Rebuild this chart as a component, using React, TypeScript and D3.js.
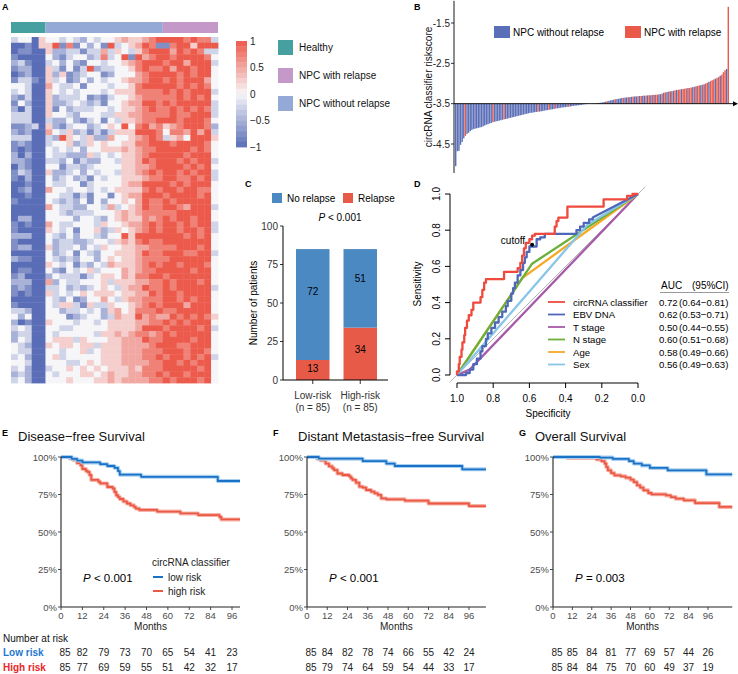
import * as d3 from "d3";

const FONT = "'Liberation Sans', Arial, Helvetica, sans-serif";

// ---------- A: heatmap (levels 0..8 -> -1..1) ----------
const heatRows = [
  "34405 4434324344565 5678 8887877 3",
  "00105 5817142418345 6871 1788588 8",
  "01100 5223313363543 5788 8687873 3",
  "10000 4213442373481 8678 8788887 4",
  "23100 3424214434456 7888 7886888 3",
  "12200 5314138233445 7877 8688788 4",
  "01200 5251234412444 6788 8878788 4",
  "13310 5341242434456 6788 7878886 4",
  "44300 6433414443445 7888 8878787 4",
  "34300 5434344434555 7777 8787888 3",
  "21300 5233341213445 6777 7787878 4",
  "14200 5223432314456 6887 8788888 3",
  "20300 5142333443455 6787 7878787 3",
  "33300 5443244433556 6777 7877888 3",
  "33300 3224213414355 6778 8878887 4",
  "11230 5213442345484 7867 5678887 2",
  "21200 6435231313555 8887 4776868 3",
  "33300 3285435226445 6787 3564888 5",
  "12100 3445235454455 7788 8788887 4",
  "10100 4343424455565 6778 8888787 4",
  "20200 4332225343455 6788 8887888 4",
  "22100 3324132244355 6878 8878788 3",
  "02100 4413323444455 6678 8887878 4",
  "13200 5223424344355 6787 8878788 3",
  "10200 4234231434455 5677 8877878 3",
  "00100 4334413444456 6888 8787888 4",
  "01200 6443443434555 5787 8878877 4",
  "00100 4433131441456 6888 7888878 4",
  "10000 4323241424454 6877 8788888 4",
  "00000 6433224436345 6877 8876888 3",
  "00000 4432333444565 6777 7788888 4",
  "02200 4444244324565 5767 8788788 4",
  "10100 6433444354456 6787 8878788 3",
  "10000 5434144523545 6787 8878878 3",
  "22200 4324244324485 8888 8887878 4",
  "10000 4233223443565 7877 8888888 4",
  "12200 5233424354455 6677 7788878 4",
  "00000 4234143244555 6877 8887788 3",
  "21100 4323244245455 6777 7888888 4",
  "00000 5434132436555 6787 8878887 4",
  "01100 4214345344465 6778 8888788 4",
  "12000 2433313455465 7788 7888888 4",
  "22200 6243344453555 6677 8788878 4",
  "12100 3342323454356 6877 8788888 3",
  "10100 5343454555455 6687 8878888 4",
  "00000 4324124464356 6777 8878788 4",
  "10000 4355315335445 6787 8886888 4",
  "33200 4423343425645 7778 7788888 4",
  "42400 4441234423655 8676 6878787 5",
  "20100 5444344345555 6677 8787888 4",
  "34300 4433444445555 6888 7888878 3",
  "23300 4344444355656 7767 8788888 4",
  "24300 4555354445566 6877 8888788 4",
  "43200 5455455355566 6678 8877888 4",
  "43300 4434453455566 6777 8887887 4",
  "34200 4534444455566 6778 7887878 3",
  "44300 4443345455566 6677 8878788 4",
  "34200 3445454545556 5777 8888878 4",
  "23200 4344455456556 6778 7887888 4",
  "34200 4445444556566 6677 8788878 4",
];
const annotGroups = ["Healthy", "NPC without relapse", "NPC with relapse"];
const annotSizes = [5, 17, 8];
const legendGroups = ["Healthy", "NPC with relapse", "NPC without relapse"];
const groupColors: Record<string, string> = {
  Healthy: "#47A0A0",
  "NPC with relapse": "#C498C8",
  "NPC without relapse": "#95A9D6",
};
const colorbarTicks = [1, 0.5, 0, -0.5, -1];

// ---------- B: risk scores ----------
const riskScores = [
  -5.05, -4.68, -4.67, -4.52, -4.45, -4.36, -4.3, -4.25, -4.22, -4.18, -4.15, -4.13, -4.12, -4.11, -4.1, -4.09,
  -4.08, -4.06, -4.04, -4.02, -4.01, -3.99, -3.98, -3.96, -3.95, -3.94, -3.93, -3.92, -3.91, -3.9, -3.89,
  -3.88, -3.87, -3.86, -3.85, -3.84, -3.83, -3.82, -3.81, -3.8, -3.79, -3.78, -3.77,
  -3.76, -3.75, -3.74, -3.73, -3.725, -3.72, -3.71, -3.705, -3.7, -3.695, -3.69, -3.68, -3.67, -3.665, -3.66,
  -3.65, -3.645, -3.64, -3.63, -3.62, -3.615, -3.61, -3.6, -3.595, -3.59, -3.585, -3.58, -3.575, -3.57, -3.56,
  -3.555, -3.55, -3.545, -3.54, -3.535, -3.53, -3.52, -3.515, -3.51, -3.505, -3.5, -3.5,
  -3.498, -3.495, -3.49, -3.485, -3.48, -3.475, -3.47, -3.46,
  -3.45, -3.44, -3.43, -3.42, -3.41, -3.4, -3.39, -3.385, -3.38, -3.37, -3.36, -3.355, -3.35, -3.345, -3.34,
  -3.335, -3.33, -3.325, -3.32, -3.32, -3.315, -3.31, -3.31, -3.305, -3.3, -3.3, -3.295, -3.29, -3.29, -3.285,
  -3.28, -3.28, -3.275, -3.27, -3.265,
  -3.25, -3.23, -3.22, -3.21, -3.2, -3.195, -3.19, -3.18, -3.17, -3.16, -3.155, -3.15, -3.14, -3.135, -3.13,
  -3.12, -3.115, -3.11, -3.1, -3.09, -3.08, -3.07, -3.06, -3.05, -3.04, -3.03, -3.02, -3.0, -2.98, -2.96, -2.94,
  -2.92, -2.9, -2.88, -2.86, -2.84, -2.81, -2.78, -2.72, -2.67, -2.64, -1.1,
];
const relapseIdx = [
  6, 23, 30, 51, 58, 62, 70, 88, 94, 99, 104, 107, 110, 113, 115, 118, 120, 122, 124, 125, 128, 130, 132, 134,
  136, 138, 139, 141, 142, 143, 145, 146, 148, 150, 151, 153, 155, 156, 158, 159, 160, 162, 163, 165, 166, 167, 169,
];
const bTicks = [-1.5, -2.5, -3.5, -4.5];

// ---------- C: relapse by risk group ----------
const riskGroups = ["Low-risk", "High-risk"];
const noRelapseN = [72, 51];
const relapseN = [13, 34];
const cTicks = [0, 25, 50, 75, 100];

// ---------- D: ROC (specificity, sensitivity) ----------
const rocCirc = [
  [1, 0], [1, 0.02], [0.99, 0.02], [0.99, 0.06], [0.985, 0.06], [0.985, 0.1], [0.975, 0.1], [0.975, 0.14],
  [0.97, 0.14], [0.97, 0.18], [0.96, 0.18], [0.96, 0.22], [0.955, 0.22], [0.955, 0.26], [0.945, 0.26],
  [0.945, 0.3], [0.935, 0.3], [0.935, 0.33], [0.92, 0.33], [0.92, 0.36], [0.91, 0.36], [0.91, 0.4], [0.87, 0.4],
  [0.87, 0.43], [0.86, 0.43], [0.86, 0.47], [0.85, 0.47], [0.85, 0.51], [0.84, 0.51], [0.84, 0.53], [0.74, 0.53],
  [0.74, 0.57], [0.665, 0.57], [0.665, 0.59], [0.65, 0.59], [0.65, 0.62], [0.64, 0.62], [0.64, 0.66], [0.63, 0.66],
  [0.63, 0.7], [0.62, 0.7], [0.62, 0.73], [0.6, 0.73], [0.6, 0.75], [0.585, 0.75], [0.585, 0.77], [0.57, 0.77],
  [0.57, 0.78], [0.46, 0.78], [0.46, 0.82], [0.45, 0.82], [0.45, 0.85], [0.44, 0.85], [0.44, 0.87], [0.39, 0.87],
  [0.39, 0.93], [0.19, 0.93], [0.19, 0.97], [0.06, 0.97], [0.06, 0.99], [0.03, 0.99], [0.03, 1], [0, 1],
];
const rocEbv = [
  [1, 0], [0.95, 0], [0.95, 0.01], [0.93, 0.01], [0.93, 0.03], [0.91, 0.03], [0.91, 0.06], [0.89, 0.06],
  [0.89, 0.09], [0.87, 0.09], [0.87, 0.13], [0.86, 0.13], [0.86, 0.16], [0.84, 0.16], [0.84, 0.2], [0.83, 0.2],
  [0.83, 0.23], [0.81, 0.23], [0.81, 0.26], [0.79, 0.26], [0.79, 0.29], [0.77, 0.29], [0.77, 0.32], [0.75, 0.32],
  [0.75, 0.35], [0.73, 0.35], [0.73, 0.38], [0.72, 0.38], [0.72, 0.41], [0.7, 0.41], [0.7, 0.45], [0.69, 0.45],
  [0.69, 0.48], [0.68, 0.48], [0.68, 0.51], [0.665, 0.51], [0.665, 0.55], [0.65, 0.55], [0.65, 0.58],
  [0.635, 0.58], [0.635, 0.62], [0.625, 0.62], [0.625, 0.65], [0.615, 0.65], [0.615, 0.68], [0.6, 0.68],
  [0.6, 0.71], [0.56, 0.71], [0.56, 0.75], [0.54, 0.75], [0.54, 0.76], [0.515, 0.76], [0.515, 0.78], [0.34, 0.78],
  [0.34, 0.8], [0.32, 0.8], [0.32, 0.82], [0.3, 0.82], [0.3, 0.84], [0.27, 0.84], [0.27, 0.86], [0.25, 0.86],
  [0.25, 0.87], [0, 1],
];
const rocT = [[1, 0], [0.93, 0.03], [0, 1]];
const rocN = [[1, 0], [0.585, 0.615], [0, 1]];
const rocAge = [[1, 0], [0.64, 0.535], [0, 1]];
const rocSex = [[1, 0], [0.28, 0.83], [0, 1]];
const rocNames = ["circRNA classifier", "EBV DNA", "T stage", "N stage", "Age", "Sex"];
const rocAuc = ["0.72", "0.62", "0.50", "0.60", "0.58", "0.56"];
const rocCi = ["(0.64\u22120.81)", "(0.53\u22120.71)", "(0.44\u22120.55)", "(0.51\u22120.68)", "(0.49\u22120.66)", "(0.49\u22120.63)"];
const rocColors = ["#EE4A3D", "#4F67B9", "#A65BA9", "#6AB03A", "#F6A928", "#88C6E8"];
const rocCurves = [rocCirc, rocEbv, rocT, rocN, rocAge, rocSex];
const rocDrawOrder = [2, 4, 3, 5, 1, 0];
const cutoffPoint = [0.585, 0.72];
const rocTicks = [0, 0.2, 0.4, 0.6, 0.8, 1];

// ---------- E-G: Kaplan-Meier ----------
const monthTicks = [0, 12, 24, 36, 48, 60, 72, 84, 96];
const survTicks = [0, 0.25, 0.5, 0.75, 1];
const dfsLow = [[0, 1], [6, 0.988], [9, 0.976], [12, 0.964], [22, 0.952], [26, 0.94], [30, 0.928], [32, 0.906], [33, 0.882], [45, 0.868], [88, 0.84]];
const dfsHigh = [
  [0, 1], [5, 0.99], [7, 0.98], [9, 0.96], [11, 0.945], [12, 0.92], [14, 0.907], [15, 0.9], [16, 0.88], [17, 0.847],
  [21, 0.835], [22, 0.824], [26, 0.8], [29, 0.79], [30, 0.767], [31, 0.745], [32, 0.733], [33, 0.72], [35, 0.704],
  [37, 0.69], [39, 0.678], [41, 0.667], [42, 0.656], [44, 0.647], [54, 0.636], [67, 0.624], [77, 0.613], [89, 0.6], [90, 0.584],
];
const dmfsLow = [[0, 1], [7, 0.989], [33, 0.973], [47, 0.956], [52, 0.94], [92, 0.918]];
const dmfsHigh = [
  [0, 1], [6, 0.989], [8, 0.978], [11, 0.956], [13, 0.938], [15, 0.925], [16, 0.913], [18, 0.89], [21, 0.88],
  [25, 0.871], [26, 0.858], [27, 0.847], [29, 0.829], [31, 0.802], [33, 0.796], [35, 0.78], [38, 0.769], [40, 0.758],
  [42, 0.747], [44, 0.724], [47, 0.718], [58, 0.709], [72, 0.69], [96, 0.673],
];
const osLow = [[0, 1], [29, 0.996], [37, 0.987], [47, 0.973], [50, 0.956], [55, 0.944], [60, 0.927], [71, 0.911], [95, 0.884]];
const osHigh = [
  [0, 1], [9, 0.993], [27, 0.984], [30, 0.973], [32, 0.956], [33, 0.933], [34, 0.911], [36, 0.893], [38, 0.878],
  [42, 0.871], [45, 0.862], [48, 0.849], [50, 0.833], [52, 0.811], [54, 0.796], [56, 0.778], [59, 0.76], [61, 0.751],
  [70, 0.744], [73, 0.733], [76, 0.722], [81, 0.711], [88, 0.693], [103, 0.667],
];
const dfsAtRiskLow = [85, 82, 79, 73, 70, 65, 54, 41, 23];
const dfsAtRiskHigh = [85, 77, 69, 59, 55, 51, 42, 32, 17];
const dmfsAtRiskLow = [85, 84, 82, 78, 74, 66, 55, 42, 24];
const dmfsAtRiskHigh = [85, 79, 74, 64, 59, 54, 44, 33, 17];
const osAtRiskLow = [85, 85, 84, 81, 77, 69, 57, 44, 26];
const osAtRiskHigh = [85, 84, 84, 75, 70, 60, 49, 37, 19];

const BLUE_HM = "#5A6DB7";
const RED_HM = "#EC5A4B";

function PanelA() {
  const cells = heatRows.map((r) => r.replace(/ /g, ""));
  const nCols = 30;
  const x = d3.scaleBand<number>().domain(d3.range(nCols)).range([11, 218]);
  const y = d3.scaleBand<number>().domain(d3.range(cells.length)).range([37, 383]);
  const color = d3.scaleLinear<string>().domain([-1, 0, 1]).range([BLUE_HM, "#F6F6F8", RED_HM]).clamp(true);
  const level = (ch: string) => ((ch ? +ch : 4) - 4) / 4;

  let start = 0;
  const annot = annotGroups.map((g, i) => {
    const s = start;
    start += annotSizes[i];
    return { g, s, e: start - 1 };
  });

  // stepped colour key
  const cbY = d3.scaleLinear().domain([1, -1]).range([41, 147]);
  const nBands = 20;
  const step = 2 / nBands;
  const bands = d3.range(nBands).map((i) => 1 - (i + 0.5) * step);

  return (
    <g>
      <text x={2} y={10} fontSize={9} fontWeight="bold">A</text>
      {annot.map((a) => (
        <rect key={a.g} x={x(a.s)} y={22} width={(x(a.e) as number) + x.bandwidth() - (x(a.s) as number)} height={11} fill={groupColors[a.g]} />
      ))}
      {cells.map((row, r) =>
        d3.range(nCols).map((c) => (
          <rect key={r + "-" + c} x={x(c)} y={y(r)} width={x.bandwidth() + 0.4} height={y.bandwidth() + 0.4} fill={color(level(row[c]))} />
        ))
      )}
      {bands.map((v, i) => (
        <rect key={i} x={236} y={cbY(v + step / 2)} width={11} height={cbY(-step) - cbY(0) + 0.4} fill={color(v)} />
      ))}
      {colorbarTicks.map((t) => (
        <text key={t} x={250} y={cbY(t)} fontSize={10} dominantBaseline="central" fill="#222">
          {t < 0 ? "\u2212" + Math.abs(t) : String(t)}
        </text>
      ))}
      {legendGroups.map((g, i) => (
        <g key={g} transform={`translate(278,${40 + i * 28})`}>
          <rect width={15} height={15} fill={groupColors[g]} />
          <text x={21} y={7.5} fontSize={10} dominantBaseline="central" fill="#111">{g}</text>
        </g>
      ))}
    </g>
  );
}

function PanelB() {
  const x = d3.scaleBand<number>().domain(d3.range(riskScores.length)).range([455, 729]).paddingInner(0.12);
  const y = d3.scaleLinear().domain([-4.5, -1.5]).range([144, 23]);
  const base = y(-3.5);
  const rel = new Set(relapseIdx);
  return (
    <g>
      <text x={414} y={10} fontSize={9} fontWeight="bold">B</text>
      {riskScores.map((v, i) => (
        <rect key={i} x={x(i)} width={x.bandwidth()} y={Math.min(y(v), base)} height={Math.abs(y(v) - base)} fill={rel.has(i) ? "#EA5A4A" : "#5B6FB9"} />
      ))}
      <line x1={454} x2={454} y1={y(-0.95)} y2={y(-5.22)} stroke="#000" strokeWidth={0.9} />
      {bTicks.map((t) => (
        <g key={t}>
          <line x1={451} x2={454} y1={y(t)} y2={y(t)} stroke="#000" strokeWidth={0.8} />
          <text x={450} y={y(t)} fontSize={10} textAnchor="end" dominantBaseline="central" fill="#222">{t.toFixed(1)}</text>
        </g>
      ))}
      <line x1={454} x2={734} y1={base} y2={base} stroke="#000" strokeWidth={0.9} />
      <path d={`M733,${base - 2.5}L738,${base}L733,${base + 2.5}Z`} fill="#000" />
      <text transform={`translate(428,87) rotate(-90)`} fontSize={10} textAnchor="middle" dominantBaseline="central" fill="#111">
        circRNA classifier riskscore
      </text>
      <rect x={494} y={26} width={16} height={12} fill="#5B6FB9" />
      <text x={513} y={32} fontSize={10} dominantBaseline="central">NPC without relapse</text>
      <rect x={625} y={26} width={16} height={12} fill="#EA5A4A" />
      <text x={644} y={32} fontSize={10} dominantBaseline="central">NPC with relapse</text>
    </g>
  );
}

function PanelC() {
  const x = d3.scaleBand<string>().domain(riskGroups).range([284, 389]).paddingInner(0.295).paddingOuter(0.253);
  const y = d3.scaleLinear().domain([0, 100]).range([380, 226]);
  return (
    <g>
      <text x={245} y={187} fontSize={9} fontWeight="bold">C</text>
      <rect x={272} y={193} width={10} height={10} fill="#4B89C3" />
      <text x={287} y={198.5} fontSize={10} dominantBaseline="central">No relapse</text>
      <rect x={343} y={193} width={10} height={10} fill="#E85A48" />
      <text x={358} y={198.5} fontSize={10} dominantBaseline="central">Relapse</text>
      <text x={340} y={217} fontSize={10} textAnchor="middle" dominantBaseline="central">
        <tspan fontStyle="italic">P</tspan> {"< 0.001"}
      </text>
      {riskGroups.map((g, i) => {
        const bx = x(g) as number;
        const w = x.bandwidth();
        const r = relapseN[i];
        const n = noRelapseN[i];
        return (
          <g key={g}>
            <rect x={bx} y={y(r)} width={w} height={y(0) - y(r)} fill="#E85A48" />
            <rect x={bx} y={y(r + n)} width={w} height={y(r) - y(r + n)} fill="#4B89C3" />
            <text x={bx + w / 2} y={y(r + n * 0.62)} fontSize={10} textAnchor="middle" dominantBaseline="central">{n}</text>
            <text x={bx + w / 2} y={y(r * 0.58)} fontSize={10} textAnchor="middle" dominantBaseline="central">{r}</text>
            <line x1={bx + w / 2} x2={bx + w / 2} y1={380} y2={384} stroke="#000" strokeWidth={0.8} />
            <text x={bx + w / 2} y={395} fontSize={10} textAnchor="middle" dominantBaseline="central" fill="#333">{g}</text>
            <text x={bx + w / 2} y={407} fontSize={10} textAnchor="middle" dominantBaseline="central" fill="#333">(n = 85)</text>
          </g>
        );
      })}
      <line x1={283} x2={283} y1={y(0)} y2={y(100)} stroke="#000" strokeWidth={1} />
      <line x1={283} x2={388} y1={y(0)} y2={y(0)} stroke="#000" strokeWidth={1} />
      {cTicks.map((t) => (
        <g key={t}>
          <line x1={280} x2={283} y1={y(t)} y2={y(t)} stroke="#000" strokeWidth={0.8} />
          <text x={278} y={y(t)} fontSize={10} textAnchor="end" dominantBaseline="central" fill="#333">{t}</text>
        </g>
      ))}
      <text transform={`translate(253,303) rotate(-90)`} fontSize={10} textAnchor="middle" dominantBaseline="central">
        Number of patients
      </text>
    </g>
  );
}

function PanelD() {
  const x = d3.scaleLinear().domain([1, 0]).range([457, 638]);
  const y = d3.scaleLinear().domain([0, 1]).range([375, 194]);
  const line = d3.line<number[]>().x((d) => x(d[0])).y((d) => y(d[1]));
  return (
    <g>
      <text x={414} y={187} fontSize={9} fontWeight="bold">D</text>
      <line x1={x(1.04)} y1={y(-0.04)} x2={x(-0.04)} y2={y(1.04)} stroke="#B5B5B5" strokeWidth={1} />
      {rocDrawOrder.map((i) => (
        <path key={i} d={line(rocCurves[i] as number[][]) || ""} fill="none" stroke={rocColors[i]} strokeWidth={2.3} strokeLinejoin="round" />
      ))}
      <circle cx={x(cutoffPoint[0])} cy={y(cutoffPoint[1])} r={2} fill="#000" />
      <text x={x(cutoffPoint[0]) - 7} y={y(cutoffPoint[1]) - 4} fontSize={10} textAnchor="end" dominantBaseline="central">cutoff</text>
      <line x1={450} x2={450} y1={y(0)} y2={y(1)} stroke="#000" strokeWidth={1} />
      {rocTicks.map((t) => (
        <g key={"y" + t}>
          <line x1={445} x2={450} y1={y(t)} y2={y(t)} stroke="#000" strokeWidth={1} />
          <text transform={`translate(436,${y(t)}) rotate(-90)`} fontSize={10} textAnchor="middle" dominantBaseline="central">
            {t.toFixed(1)}
          </text>
        </g>
      ))}
      <line x1={x(1)} x2={x(0)} y1={383} y2={383} stroke="#000" strokeWidth={1} />
      {rocTicks.map((t) => (
        <g key={"x" + t}>
          <line x1={x(t)} x2={x(t)} y1={383} y2={388} stroke="#000" strokeWidth={1} />
          <text x={x(t)} y={398} fontSize={10} textAnchor="middle" dominantBaseline="central">{t.toFixed(1)}</text>
        </g>
      ))}
      <text x={548} y={413} fontSize={10} textAnchor="middle" dominantBaseline="central">Specificity</text>
      <text transform={`translate(417,284) rotate(-90)`} fontSize={10} textAnchor="middle" dominantBaseline="central">
        Sensitivity
      </text>
      <text x={661} y={285} fontSize={10} dominantBaseline="central">AUC</text>
      <text x={692} y={285} fontSize={10} dominantBaseline="central">(95%CI)</text>
      <line x1={660} x2={729} y1={292.5} y2={292.5} stroke="#999" strokeWidth={1} />
      {rocNames.map((n, i) => {
        const ly = 302 + i * 12.5;
        return (
          <g key={n}>
            <line x1={548} x2={565} y1={ly} y2={ly} stroke={rocColors[i]} strokeWidth={1.8} />
            <text x={573} y={ly} fontSize={9.6} dominantBaseline="central">{n}</text>
            <text x={659} y={ly} fontSize={9.6} dominantBaseline="central">{rocAuc[i]}</text>
            <text x={679} y={ly} fontSize={9.6} dominantBaseline="central">{rocCi[i]}</text>
          </g>
        );
      })}
    </g>
  );
}

type SurvProps = {
  letter: string;
  letterX: number;
  title: string;
  titleX: number;
  left: number;
  ppm: number;
  maxMonth: number;
  low: number[][];
  high: number[][];
  pText: string;
  riskLow: number[];
  riskHigh: number[];
  legend?: boolean;
};

const KM_BLUE = "#1A72C6";
const KM_RED = "#EB5843";

function SurvPanel(p: SurvProps) {
  const x = d3.scaleLinear().domain([0, p.maxMonth]).range([p.left, p.left + p.maxMonth * p.ppm]);
  const y = d3.scaleLinear().domain([0, 1]).range([607, 457]);
  const line = d3.line<number[]>().x((d) => x(d[0])).y((d) => y(d[1])).curve(d3.curveStepAfter);
  const ext = (a: number[][]) => [...a, [p.maxMonth, a[a.length - 1][1]]];
  const curves = [
    { d: ext(p.high), c: KM_RED, h: "#F7B3A9" },
    { d: ext(p.low), c: KM_BLUE, h: "#A9CFF0" },
  ];
  const [pLabel, ...rest] = p.pText.split(" ");
  return (
    <g>
      <text x={p.letterX} y={436} fontSize={9} fontWeight="bold">{p.letter}</text>
      <text x={p.titleX} y={436} fontSize={13} dominantBaseline="central" fill="#111">{p.title}</text>
      {curves.map((cv, i) => (
        <g key={i}>
          <path d={line(cv.d) || ""} fill="none" stroke={cv.h} strokeWidth={4} strokeLinejoin="round" />
          <path d={line(cv.d) || ""} fill="none" stroke={cv.c} strokeWidth={1.8} strokeLinejoin="round" />
        </g>
      ))}
      <line x1={p.left} x2={p.left} y1={y(0)} y2={y(1)} stroke="#222" strokeWidth={1.1} />
      <line x1={p.left} x2={x(p.maxMonth)} y1={y(0)} y2={y(0)} stroke="#222" strokeWidth={1.1} />
      {survTicks.map((t) => (
        <g key={t}>
          <line x1={p.left - 3} x2={p.left} y1={y(t)} y2={y(t)} stroke="#333" strokeWidth={0.9} />
          <text x={p.left - 4} y={y(t)} fontSize={9.5} textAnchor="end" dominantBaseline="central" fill="#4D4D4D">
            {Math.round(t * 100) + "%"}
          </text>
        </g>
      ))}
      {monthTicks.map((t) => (
        <g key={t}>
          <line x1={x(t)} x2={x(t)} y1={y(0)} y2={y(0) + 3} stroke="#333" strokeWidth={0.9} />
          <text x={x(t)} y={615} fontSize={9.5} textAnchor="middle" dominantBaseline="central" fill="#4D4D4D">{t}</text>
        </g>
      ))}
      <text x={(p.left + x(p.maxMonth)) / 2} y={626} fontSize={10} textAnchor="middle" dominantBaseline="central" fill="#222">
        Months
      </text>
      <text x={p.left + 22} y={578} fontSize={11.5} dominantBaseline="central">
        <tspan fontStyle="italic">{pLabel}</tspan> {rest.join(" ")}
      </text>
      {p.legend && (
        <g>
          <text x={152} y={562} fontSize={10} dominantBaseline="central" fill="#222">circRNA classifier</text>
          <line x1={153} x2={163} y1={577} y2={577} stroke={KM_BLUE} strokeWidth={2} />
          <text x={168} y={577} fontSize={10} dominantBaseline="central" fill="#222">low risk</text>
          <line x1={153} x2={163} y1={591} y2={591} stroke={KM_RED} strokeWidth={2} />
          <text x={168} y={591} fontSize={10} dominantBaseline="central" fill="#222">high risk</text>
        </g>
      )}
      {[p.riskLow, p.riskHigh].map((row, ri) =>
        row.map((n, i) => (
          <text key={ri + "-" + i} x={x(monthTicks[i]) + (i === 0 ? 4 : 0)} y={652 + ri * 15} fontSize={10} textAnchor="middle" dominantBaseline="central" fill="#222">
            {n}
          </text>
        ))
      )}
    </g>
  );
}

export default function App() {
  return (
    <svg width={738} height={674} style={{ position: "absolute", left: 0, top: 0 }} fontFamily={FONT}>
      <rect width={738} height={674} fill="#fff" />
      <PanelA />
      <PanelB />
      <PanelC />
      <PanelD />
      <SurvPanel letter="E" letterX={2} title={"Disease\u2212free Survival"} titleX={18} left={61} ppm={1.78125} maxMonth={100.5}
        low={dfsLow} high={dfsHigh} pText="P < 0.001" riskLow={dfsAtRiskLow} riskHigh={dfsAtRiskHigh} legend />
      <SurvPanel letter="F" letterX={273} title={"Distant Metastasis\u2212free Survival"} titleX={298} left={307} ppm={1.6875} maxMonth={106}
        low={dmfsLow} high={dmfsHigh} pText="P < 0.001" riskLow={dmfsAtRiskLow} riskHigh={dmfsAtRiskHigh} />
      <SurvPanel letter="G" letterX={519} title="Overall Survival" titleX={535} left={553} ppm={1.6146} maxMonth={111}
        low={osLow} high={osHigh} pText="P = 0.003" riskLow={osAtRiskLow} riskHigh={osAtRiskHigh} />
      <text x={3} y={638} fontSize={10} dominantBaseline="central" fill="#111">Number at risk</text>
      <text x={3} y={652} fontSize={10} fontWeight="bold" dominantBaseline="central" fill="#1E78D0">Low risk</text>
      <text x={3} y={667} fontSize={10} fontWeight="bold" dominantBaseline="central" fill="#E8262A">High risk</text>
    </svg>
  );
}
